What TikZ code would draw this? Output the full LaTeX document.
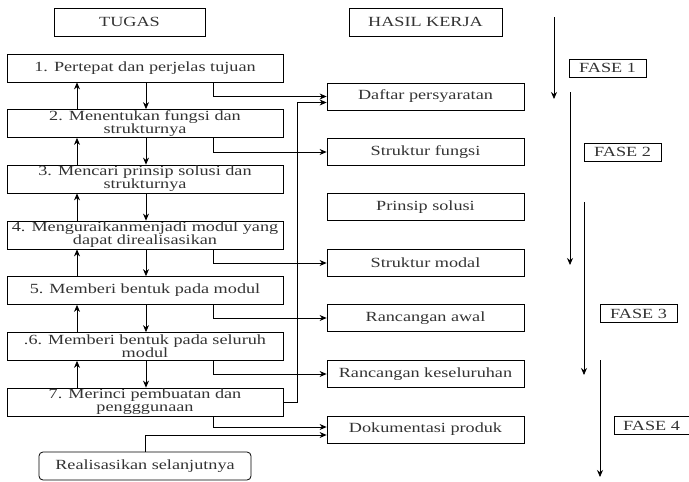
\documentclass[tikz,border=0pt]{standalone}
\usepackage{fontspec}
\setmainfont[FakeStretch=1.3]{Liberation Serif}
\usetikzlibrary{arrows.meta}
\tikzset{
  kotak/.style={draw, line width=0.8pt, inner sep=0pt, minimum height=28pt, align=center, text=black!80},
  tugas/.style={kotak, minimum width=276pt},
  hasil/.style={kotak, minimum width=197pt, minimum height=27pt},
  fase/.style={kotak, minimum width=77pt, minimum height=18pt}
}
\begin{document}
\begin{tikzpicture}[x=1pt, y=-1pt, line width=0.8pt, >={Stealth[length=7pt,width=6pt]}, font=\fontsize{14}{13}\selectfont]
            \useasboundingbox (0,0) rectangle (689,482);
            % judul kolom
            \node[kotak, minimum width=151pt] (jtugas) at (129.5,22) {TUGAS};
            \node[kotak, minimum width=153pt] (jhasil) at (425.5,22) {HASIL KERJA};
            % langkah
            \node[tugas] (b1) at (145,68) {1. Pertepat dan perjelas tujuan};
            \node[tugas] (b2) at (145,123.5) {2. Menentukan fungsi dan\\strukturnya};
            \node[tugas] (b3) at (145,179) {3. Mencari prinsip solusi dan\\strukturnya};
            \node[tugas] (b4) at (145,235) {4. Menguraikanmenjadi modul yang\\dapat direalisasikan};
            \node[tugas] (b5) at (145,290.5) {5. Memberi bentuk pada modul};
            \node[tugas] (b6) at (145,346.5) {.6. Memberi bentuk pada seluruh\\modul};
            \node[tugas] (b7) at (145,402) {7. Merinci pembuatan dan\\pengggunaan};
            \node[kotak, rounded corners=4pt, minimum width=212pt] (real) at (145,466) {Realisasikan selanjutnya};
            % hasil kerja
            \node[hasil] (h1) at (425.5,96.5) {Daftar persyaratan};
            \node[hasil] (h2) at (425.5,152) {Struktur fungsi};
            \node[hasil] (h3) at (425.5,207) {Prinsip solusi};
            \node[hasil] (h4) at (425.5,263) {Struktur modal};
            \node[hasil] (h5) at (425.5,318) {Rancangan awal};
            \node[hasil] (h6) at (425.5,374) {Rancangan keseluruhan};
            \node[hasil] (h7) at (425.5,429.5) {Dokumentasi produk};
            % fase
            \node[fase] (f1) at (607.5,68) {FASE 1};
            \node[fase] (f2) at (622.5,152) {FASE 2};
            \node[fase] (f3) at (638.5,313.5) {FASE 3};
            \node[fase, minimum width=75pt] (f4) at (651.5,425.5) {FASE 4};
            % jalur
            \coordinate (up) at (77,0);
            \coordinate (dn) at (146,0);
            \coordinate (out) at (213,0);
            \coordinate (back) at (297,0);
            \foreach \i/\j in {1/2,2/3,3/4,4/5,5/6,6/7} {
              \draw[->] (b\i.south -| dn) -- (b\j.north -| dn);
              \draw[->] (b\j.north -| up) -- (b\i.south -| up);
            }
            \foreach \i in {2,4,5,6}
              \draw[->] (b\i.south -| out) |- (h\i.west);
            \draw[->] (b1.south -| out) |- (h1.west);
            \coordinate (d1) at ([yshift=-6pt]h1.west);
            \draw[->] (b7.east) -| (d1 -| back) -- (d1);
            \coordinate (d7a) at ([yshift=2.5pt]h7.west);
            \coordinate (d7b) at ([yshift=-5.5pt]h7.west);
            \draw[->] (b7.south -| out) |- (d7a);
            \draw[->] (real.north) |- (d7b);
            % panah fase
            \coordinate (p1a) at (554,17);  \coordinate (p1b) at (554,99);
            \coordinate (p2a) at (570,92);  \coordinate (p2b) at (570,265);
            \coordinate (p3a) at (584,202); \coordinate (p3b) at (584,375);
            \coordinate (p4a) at (600,360); \coordinate (p4b) at (600,477);
            \draw[->] (p1a) -- (p1b);
            \draw[->] (p2a) -- (p2b);
            \draw[->] (p3a) -- (p3b);
            \draw[->] (p4a) -- (p4b);
\end{tikzpicture}
\end{document}
